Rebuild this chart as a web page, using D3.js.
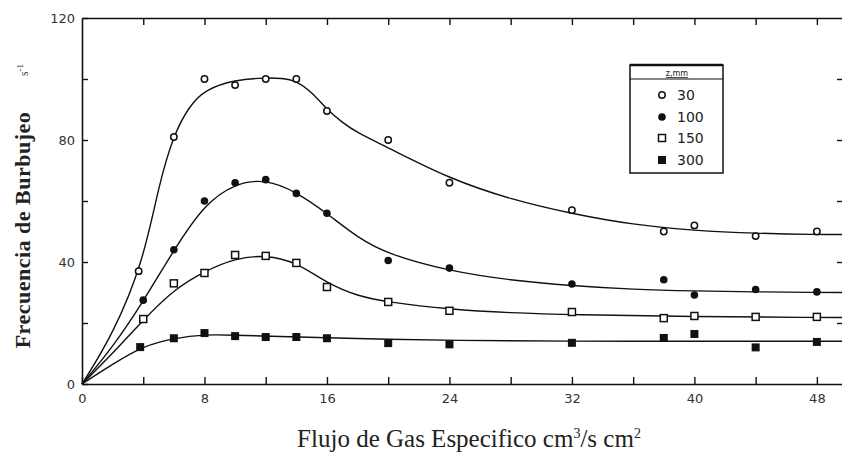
<!DOCTYPE html>
<html>
<head>
<meta charset="utf-8">
<script src="https://cdn.jsdelivr.net/npm/d3@7"></script>
<style>
body{margin:0;background:#fff;}
svg{display:block;}
.tick text{font-family:"DejaVu Sans",sans-serif;font-size:13px;fill:#333;}
</style>
</head>
<body>
<svg id="chart" width="842" height="455"></svg>
<script>
// z (mm) series
var seriesNames = ["30","100","150","300"];
var seriesMarks = ["openCircle","filledCircle","openSquare","filledSquare"];

// measured points [flujo, frecuencia]
var pts30  = [[3.7,37],[6,81],[8,100],[10,98],[12,100],[14,100],[16,89.5],[20,80],[24,66],[32,57],[38,50],[40,52],[44,48.5],[48,50]];
var pts100 = [[4,27.5],[6,44],[8,60],[10,66],[12,67],[14,62.5],[16,56],[20,40.5],[24,38],[32,32.8],[38,34.2],[40,29.2],[44,31],[48,30.2]];
var pts150 = [[4,21.3],[6,33],[8,36.4],[10,42.3],[12,42],[14,39.7],[16,31.8],[20,26.9],[24,24],[32,23.6],[38,21.6],[40,22.3],[44,22],[48,22]];
var pts300 = [[3.8,12.1],[6,15],[8,16.7],[10,15.7],[12,15.4],[14,15.4],[16,15],[20,13.4],[24,13],[32,13.5],[38,15.1],[40,16.4],[44,12],[48,13.8]];

// fitted curves drawn through the points
var fit30  = [[0,0],[2,16],[4,40],[5,65],[6,82],[7,91],[8,96.5],[10,99.8],[12,100.4],[13,100.3],[14,99.5],[15,95.7],[16,90],[17,85.7],[18,82.3],[20,77.5],[24,67.3],[28,60.5],[32,55.8],[36,52.2],[40,50.3],[44,49.4],[48,49],[49.7,49]];
var fit100 = [[0,0],[2,12],[4,27],[6,44],[8,59],[10,65.8],[12,67.2],[14,63],[16,56],[18,48],[20,42.5],[24,37],[28,34],[32,32.2],[36,31],[40,30.5],[44,30.2],[48,30],[49.7,30]];
var fit150 = [[0,0],[2,10],[4,21],[6,31],[8,37],[10,41.2],[12,42.3],[14,40],[16,33],[18,28.8],[20,26.8],[24,24.5],[28,23.3],[32,22.7],[40,22.1],[48,21.8],[49.7,21.8]];
var fit300 = [[0,0],[2,6.5],[4,12.5],[6,15],[8,16.3],[10,16],[12,15.7],[16,15.2],[20,14.6],[24,14.3],[32,14],[40,14],[48,14],[49.7,14]];

var xTicks = [0,4,8,12,16,20,24,28,32,36,40,44,48];
var yTicks = [0,20,40,60,80,100,120];

var allPts = [pts30, pts100, pts150, pts300];
var allFits = [fit30, fit100, fit150, fit300];

var svg = d3.select("#chart");
var plotLeft = 82, plotRight = 843, plotTop = 18, plotBottom = 384;

var x = d3.scaleLinear().domain([0,(plotRight-plotLeft)/15.31]).range([plotLeft,plotRight]);
var y = d3.scaleLinear().domain([0,120]).range([plotBottom,plotTop]);

// axes, ticks pointing inward
var xAxis = d3.axisBottom(x).tickValues(xTicks).tickSizeInner(-7).tickSizeOuter(0).tickPadding(10)
	.tickFormat(function(d){ return d%8==0 ? d : ""; });
svg.append("g").attr("transform","translate(0,"+plotBottom+")").call(xAxis);

var xTop = d3.axisTop(x).tickValues(xTicks.slice(1)).tickSizeInner(-7).tickSizeOuter(0).tickFormat("");
svg.append("g").attr("transform","translate(0,"+plotTop+")").call(xTop);

var yAxis = d3.axisLeft(y).tickValues(yTicks).tickSizeInner(-6).tickSizeOuter(0).tickPadding(7)
	.tickFormat(function(d){ return d%40==0 ? d : ""; });
svg.append("g").attr("transform","translate("+plotLeft+",0)").call(yAxis);

var yRight = d3.axisRight(y).tickValues([20,40,60,80,100]).tickSizeInner(-6).tickSizeOuter(0).tickFormat("");
svg.append("g").attr("transform","translate("+plotRight+",0)").call(yRight);

svg.selectAll(".domain").attr("stroke","#111").attr("stroke-width",1.6);
svg.selectAll(".tick line").attr("stroke","#111").attr("stroke-width",1.4);

// curves
var line = d3.line().x(function(d){ return x(d[0]); }).y(function(d){ return y(d[1]); }).curve(d3.curveBasis);
for(var i=0;i<allFits.length;i++)
{
	svg.append("path").datum(allFits[i]).attr("d",line)
		.attr("fill","none").attr("stroke","#111").attr("stroke-width",1.4);
}

function drawMark(g, kind, cx, cy)
{
	if(kind=="openCircle")
		g.append("circle").attr("cx",cx).attr("cy",cy).attr("r",3.2).attr("fill","#fff").attr("stroke","#111").attr("stroke-width",1.5);
	else if(kind=="filledCircle")
		g.append("circle").attr("cx",cx).attr("cy",cy).attr("r",3.8).attr("fill","#111");
	else if(kind=="openSquare")
		g.append("rect").attr("x",cx-3.5).attr("y",cy-3.5).attr("width",7).attr("height",7).attr("fill","#fff").attr("stroke","#111").attr("stroke-width",1.5);
	else
		g.append("rect").attr("x",cx-4).attr("y",cy-4).attr("width",8).attr("height",8).attr("fill","#111");
}

var marks = svg.append("g");
for(var s=0;s<allPts.length;s++)
{
	allPts[s].forEach(function(p){ drawMark(marks, seriesMarks[s], x(p[0]), y(p[1])); });
}

// legend
var lg = svg.append("g");
lg.append("rect").attr("x",630).attr("y",65).attr("width",93).attr("height",108)
	.attr("fill","#fff").attr("stroke","#111").attr("stroke-width",1.5);
lg.append("line").attr("x1",630).attr("x2",723).attr("y1",65).attr("y2",65).attr("stroke","#111").attr("stroke-width",2.5);
lg.append("line").attr("x1",630).attr("x2",723).attr("y1",79).attr("y2",79).attr("stroke","#111").attr("stroke-width",1.2);
lg.append("text").attr("x",677).attr("y",76).attr("text-anchor","middle")
	.style("font-family","DejaVu Sans").style("font-size","8px").style("fill","#222").style("text-decoration","underline").text("z,mm");
var legY = [95,117,138,160];
for(var k=0;k<seriesNames.length;k++)
{
	drawMark(lg, seriesMarks[k], 662, legY[k]);
	lg.append("text").attr("x",677).attr("y",legY[k]+5).style("font-family","DejaVu Sans").style("font-size","14px").style("fill","#222").text(seriesNames[k]);
}

// axis titles
svg.append("text").attr("transform","translate(30,230) rotate(-90)").attr("text-anchor","middle")
	.style("font-family","Liberation Serif").style("font-weight","bold").style("font-size","22px").style("fill","#222")
	.style("letter-spacing","0.5px").text("Frecuencia de Burbujeo");
svg.append("text").attr("transform","translate(28,70) rotate(-90)").attr("text-anchor","middle")
	.style("font-family","Liberation Serif").style("font-size","12px").style("fill","#333")
	.text("s").append("tspan").attr("dy",-5).style("font-size","9px").text("-1");

var xl = svg.append("text").attr("x",469).attr("y",447).attr("text-anchor","middle")
	.style("font-family","Liberation Serif").style("font-size","25px").style("fill","#222");
xl.append("tspan").text("Flujo de Gas Especifico cm");
xl.append("tspan").attr("dy",-9).style("font-size","14px").text("3");
xl.append("tspan").attr("dy",9).text("/s cm");
xl.append("tspan").attr("dy",-9).style("font-size","14px").text("2");
</script>
</body>
</html>
